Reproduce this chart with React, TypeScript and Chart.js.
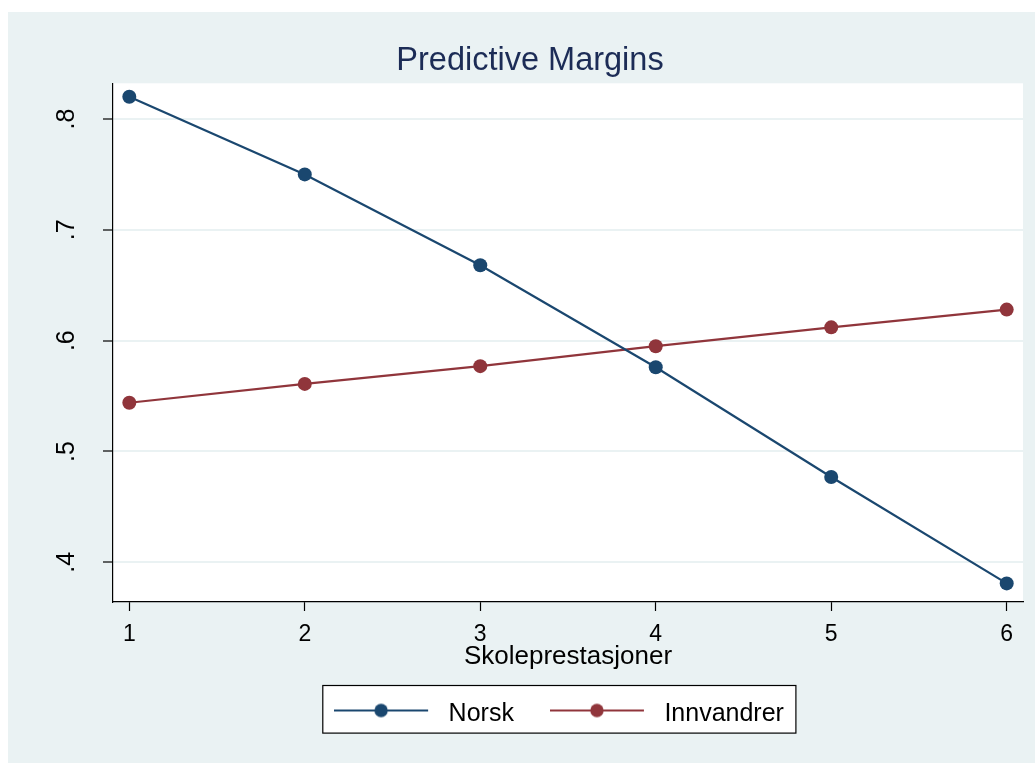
import React, { useEffect, useRef } from 'react';
import { Chart, registerables } from 'chart.js';

Chart.register(...registerables);

const categories = [1, 2, 3, 4, 5, 6];
const norsk = [0.820, 0.750, 0.668, 0.576, 0.477, 0.381];
const innvandrer = [0.544, 0.561, 0.577, 0.595, 0.612, 0.628];
const seriesNames = ['Norsk', 'Innvandrer'];
const yTickValues = [0.4, 0.5, 0.6, 0.7, 0.8];
const yTickLabels = ['.4', '.5', '.6', '.7', '.8'];
const xTickValues = [1, 2, 3, 4, 5, 6];
const xTickLabels = ['1', '2', '3', '4', '5', '6'];
const titleText = 'Predictive Margins';
const xTitle = 'Skoleprestasjoner';

const NAVY = '#1A476F';
const MAROON = '#90353B';
const BG = '#EAF2F3';
const FONT = '"Liberation Sans", Arial, sans-serif';

Chart.defaults.font.family = FONT;

function makeSample(color: string): HTMLCanvasElement {
  const c = document.createElement('canvas');
  c.width = 102;
  c.height = 28;
  const g = c.getContext('2d') as CanvasRenderingContext2D;
  g.strokeStyle = color;
  g.lineWidth = 2;
  g.beginPath();
  g.moveTo(0, 10);
  g.lineTo(94, 10);
  g.stroke();
  g.fillStyle = color;
  g.beginPath();
  g.arc(47, 10, 6.7, 0, Math.PI * 2);
  g.fill();
  return c;
}

const framePlugin = {
  id: 'frame',
  afterLayout(chart: any) {
    const lg = chart.legend;
    if (lg) {
      lg.left -= 9;
      lg.right -= 9;
      lg.top -= 6;
      lg.bottom -= 6;
    }
  },
  beforeDraw(chart: any) {
    const { ctx, width, height, chartArea } = chart;
    ctx.save();
    ctx.fillStyle = BG;
    ctx.fillRect(0, 0, width, height);
    ctx.fillStyle = '#ffffff';
    ctx.fillRect(chartArea.left, chartArea.top, chartArea.right - chartArea.left, chartArea.bottom - chartArea.top);
    const hb = chart.legend && chart.legend.legendHitBoxes;
    if (hb && hb.length) {
      const first = hb[0];
      const last = hb[hb.length - 1];
      const mid = first.top + first.height / 2;
      const l = first.left - 11.3;
      const r = last.left + last.width + 12;
      const t = mid - 29;
      const b = mid + 18.6;
      ctx.fillStyle = '#ffffff';
      ctx.fillRect(l, t, r - l, b - t);
      ctx.strokeStyle = '#000000';
      ctx.lineWidth = 1.2;
      ctx.strokeRect(l, t, r - l, b - t);
    }
    ctx.restore();
  },
};

export default function App() {
  const ref = useRef<HTMLCanvasElement | null>(null);

  useEffect(() => {
    if (!ref.current) return;
    const colors = [NAVY, MAROON];
    const samples = colors.map((c) => makeSample(c));
    const series = [norsk, innvandrer];
    const chart = new Chart(ref.current, {
      type: 'line',
      data: {
        datasets: series.map((vals, i) => ({
          label: seriesNames[i],
          data: categories.map((c, j) => ({ x: c, y: vals[j] })),
          borderColor: colors[i],
          backgroundColor: colors[i],
          pointBackgroundColor: colors[i],
          pointBorderWidth: 0,
          pointRadius: 7,
          pointHoverRadius: 7,
          borderWidth: 2.2,
          tension: 0,
          fill: false,
          clip: false as any,
        })),
      },
      options: {
        responsive: false,
        animation: false,
        events: [],
        layout: { padding: { left: 29, right: 12, top: 0, bottom: 20 } },
        plugins: {
          title: {
            display: true,
            text: titleText,
            color: '#1C2C56',
            font: { family: FONT, size: 32.5, weight: 'normal', lineHeight: 1.2 },
            padding: { top: 30, bottom: 2.3 },
          },
          legend: {
            position: 'bottom',
            fullSize: false,
            labels: {
              usePointStyle: true,
              pointStyleWidth: 102,
              padding: 36,
              color: '#000000',
              font: { family: FONT, size: 25 },
              generateLabels: (ch: any) =>
                ch.data.datasets.map((ds: any, i: number) => ({
                  text: ds.label,
                  pointStyle: samples[i],
                  datasetIndex: i,
                  fillStyle: ds.borderColor,
                  strokeStyle: ds.borderColor,
                  fontColor: '#000000',
                  lineWidth: 0,
                  hidden: false,
                })),
            },
          },
          tooltip: { enabled: false },
        },
        scales: {
          x: {
            type: 'linear',
            min: 0.9071,
            max: 6.0929,
            afterFit: (s: any) => {
              s.height = 70;
            },
            afterBuildTicks: (s: any) => {
              s.ticks = xTickValues.map((v) => ({ value: v }));
            },
            ticks: {
              callback: (_v: any, i: number) => xTickLabels[i],
              font: { family: FONT, size: 23 },
              color: '#000000',
              padding: 10,
              includeBounds: false,
              autoSkip: false,
              maxRotation: 0,
              minRotation: 0,
            },
            grid: {
              drawOnChartArea: false,
              drawTicks: true,
              tickLength: 9,
              tickColor: '#000000',
              tickWidth: 1.2,
            },
            border: { color: '#000000', width: 1.2 },
            title: {
              display: true,
              text: xTitle,
              color: '#000000',
              font: { family: FONT, size: 26, lineHeight: 1.2 },
              padding: { top: 0, bottom: -0.6 },
            },
          },
          y: {
            type: 'linear',
            min: 0.3642,
            max: 0.8322,
            afterFit: (s: any) => {
              s.width = 76;
            },
            afterBuildTicks: (s: any) => {
              s.ticks = yTickValues.map((v) => ({ value: v }));
            },
            ticks: {
              callback: (_v: any, i: number) => yTickLabels[i],
              font: { family: FONT, size: 25 },
              color: '#000000',
              padding: 25.4,
              minRotation: 90,
              maxRotation: 90,
              crossAlign: 'center',
              autoSkip: false,
              includeBounds: false,
            },
            grid: {
              color: BG,
              lineWidth: 2,
              drawTicks: true,
              tickLength: 10,
              tickColor: '#000000',
              tickWidth: 1.2,
            },
            border: { color: '#000000', width: 1.2 },
          },
        },
      } as any,
      plugins: [framePlugin],
    });
    return () => chart.destroy();
  }, []);

  return (
    <div style={{ position: 'fixed', left: 8, top: 12, width: 1027, height: 751 }}>
      <canvas ref={ref} width={1027} height={751} style={{ display: 'block' }} />
    </div>
  );
}
